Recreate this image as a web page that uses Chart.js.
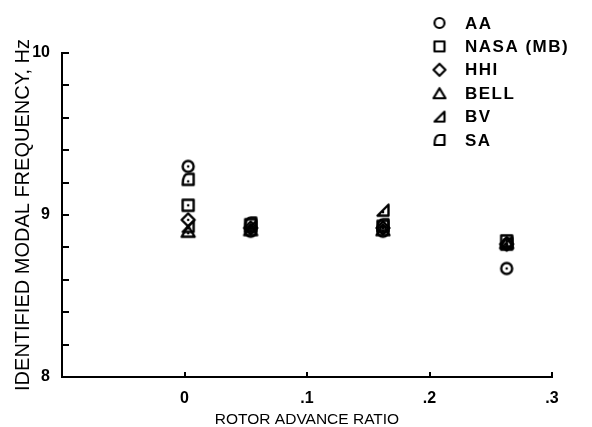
<!DOCTYPE html>
<html>
<head>
<meta charset="utf-8">
<script src="https://cdn.jsdelivr.net/npm/chart.js@4"></script>
<style>
html, body { margin: 0; padding: 0; background: #fff; }
</style>
</head>
<body>
<canvas id="freqCanvas" width="592" height="427"></canvas>
<script>
// rotor advance ratio of each test point
const advanceRatio = [0.003, 0.054, 0.162, 0.263];

// identified modal frequency, Hz, one list per source
const seriesNames = ['AA', 'NASA (MB)', 'HHI', 'BELL', 'BV', 'SA'];
const aaFreq   = [9.30, 8.90, 8.90, 8.67];
const nasaFreq = [9.06, 8.94, 8.93, 8.84];
const hhiFreq  = [8.97, 8.92, 8.92, 8.82];
const bellFreq = [8.90, 8.91, 8.91, 8.83];
const bvFreq   = [8.93, 8.93, 9.03, 8.83];
const saFreq   = [9.22, 8.95, 8.94, 8.82];

const xTickValues = [0, 0.1, 0.2, 0.3];
const xTickLabels = ['0', '.1', '.2', '.3'];
const yTickLabels = ['8', '9', '10'];

const allFreq = [aaFreq, nasaFreq, hhiFreq, bellFreq, bvFreq, saFreq];
const symbolKinds = ['circle', 'square', 'diamond', 'triangle', 'bv', 'sa'];

const fontFamily = '"Liberation Sans", Arial, Helvetica, sans-serif';

// little canvases used as point styles
function makeSymbol(kind, s, lw, dot) {
    let c = document.createElement('canvas');
    c.width = 20;
    c.height = 20;
    let g = c.getContext('2d');
    let m = 10;
    g.strokeStyle = '#000';
    g.lineWidth = lw;
    g.lineJoin = 'round';
    g.beginPath();
    if (kind == 'circle') {
        g.arc(m, m, s, 0, Math.PI * 2);
    } else if (kind == 'square') {
        g.rect(m - s, m - s, s * 2, s * 2);
    } else if (kind == 'diamond') {
        g.moveTo(m, m - s - 1);
        g.lineTo(m + s + 1, m);
        g.lineTo(m, m + s + 1);
        g.lineTo(m - s - 1, m);
        g.closePath();
    } else if (kind == 'triangle') {
        g.moveTo(m, m - s);
        g.lineTo(m + s + 1, m + s);
        g.lineTo(m - s - 1, m + s);
        g.closePath();
    } else if (kind == 'bv') {
        g.moveTo(m - s, m + s);
        g.lineTo(m + s, m + s);
        g.lineTo(m + s, m - s);
        g.closePath();
    } else if (kind == 'sa') {
        g.moveTo(m - s, m + s);
        g.lineTo(m + s, m + s);
        g.lineTo(m + s, m - s);
        g.lineTo(m, m - s);
        g.quadraticCurveTo(m - s, m - s, m - s, m + s);
        g.closePath();
    }
    g.stroke();
    if (dot) {
        g.fillStyle = '#000';
        g.beginPath();
        g.arc(m, m + (kind == 'triangle' || kind == 'bv' || kind == 'sa' ? 2 : 0), 1.3, 0, Math.PI * 2);
        g.fill();
    }
    return c;
}

let pointSymbols = symbolKinds.map(k => makeSymbol(k, 5.5, 2.4, true));
let legendSymbols = symbolKinds.map(k => makeSymbol(k, 5, 2.2, false));

let datasets = [];
for (let i = 0; i < seriesNames.length; i++) {
    let pts = [];
    for (let j = 0; j < advanceRatio.length; j++) {
        pts.push({x: advanceRatio[j], y: allFreq[i][j]});
    }
    datasets.push({
        label: seriesNames[i],
        data: pts,
        pointStyle: pointSymbols[i],
        pointRadius: 6,
        borderColor: '#000',
        backgroundColor: 'rgba(0,0,0,0)'
    });
}

// tick marks that point into the plot
const inwardTicks = {
    id: 'inwardTicks',
    afterDraw(chart) {
        let ctx = chart.ctx;
        let area = chart.chartArea;
        let xs = chart.scales.x;
        let ys = chart.scales.y;
        ctx.save();
        ctx.strokeStyle = '#000';
        ctx.lineWidth = 2;
        ctx.beginPath();
        ys.ticks.forEach(t => {
            let py = Math.round(ys.getPixelForValue(t.value));
            ctx.moveTo(area.left, py);
            ctx.lineTo(area.left + 7, py);
        });
        xTickValues.forEach(v => {
            let px = Math.round(xs.getPixelForValue(v));
            ctx.moveTo(px, area.bottom);
            ctx.lineTo(px, area.bottom - 5);
        });
        ctx.stroke();
        ctx.restore();
    }
};

// legend in the upper right corner
const cornerLegend = {
    id: 'cornerLegend',
    afterDraw(chart) {
        let ctx = chart.ctx;
        ctx.save();
        ctx.fillStyle = '#000';
        ctx.font = 'bold 17px ' + fontFamily;
        ctx.letterSpacing = '1.5px';
        ctx.textBaseline = 'middle';
        ctx.textAlign = 'left';
        for (let i = 0; i < seriesNames.length; i++) {
            let rowY = 23 + i * 23.4;
            let sym = legendSymbols[i];
            ctx.drawImage(sym, 439.5 - sym.width / 2, rowY - sym.height / 2);
            ctx.fillText(seriesNames[i], 465, rowY + 1);
        }
        ctx.restore();
    }
};

let freqChart = new Chart(document.getElementById('freqCanvas').getContext('2d'), {
    type: 'scatter',
    data: { datasets: datasets },
    plugins: [inwardTicks, cornerLegend],
    options: {
        responsive: false,
        animation: false,
        layout: { padding: { top: 53, right: 40, left: 0, bottom: 0 } },
        plugins: {
            legend: { display: false },
            tooltip: { enabled: false }
        },
        scales: {
            x: {
                type: 'linear',
                min: -0.1,
                max: 0.3,
                afterFit: s => { s.height = 50; },
                afterBuildTicks: s => {
                    s.ticks = [-0.1].concat(xTickValues).map(v => ({value: v}));
                },
                ticks: {
                    autoSkip: false,
                    maxRotation: 0,
                    color: '#000',
                    padding: 12,
                    font: { family: fontFamily, size: 16, weight: 'bold' },
                    callback: v => {
                        let k = xTickValues.findIndex(t => Math.abs(t - v) < 1e-6);
                        return k < 0 ? '' : xTickLabels[k];
                    }
                },
                grid: { drawOnChartArea: false, drawTicks: false },
                border: { display: true, color: '#000', width: 2 },
                title: {
                    display: true,
                    text: 'ROTOR ADVANCE RATIO',
                    color: '#000',
                    font: { family: fontFamily, size: 15.5 },
                    padding: { top: 0, bottom: -2 }
                }
            },
            y: {
                min: 8,
                max: 10,
                afterFit: s => { s.width = 62; },
                ticks: {
                    stepSize: 0.2,
                    autoSkip: false,
                    color: '#000',
                    padding: 12,
                    font: { family: fontFamily, size: 16, weight: 'bold' },
                    callback: v => {
                        let k = yTickLabels.findIndex(t => Math.abs(Number(t) - v) < 1e-6);
                        return k < 0 ? '' : yTickLabels[k];
                    }
                },
                grid: { drawOnChartArea: false, drawTicks: false },
                border: { display: true, color: '#000', width: 2 },
                title: {
                    display: true,
                    text: 'IDENTIFIED MODAL FREQUENCY, Hz',
                    color: '#000',
                    font: { family: fontFamily, size: 20 },
                    padding: { top: 11, bottom: 0 }
                }
            }
        }
    }
});
</script>
</body>
</html>
